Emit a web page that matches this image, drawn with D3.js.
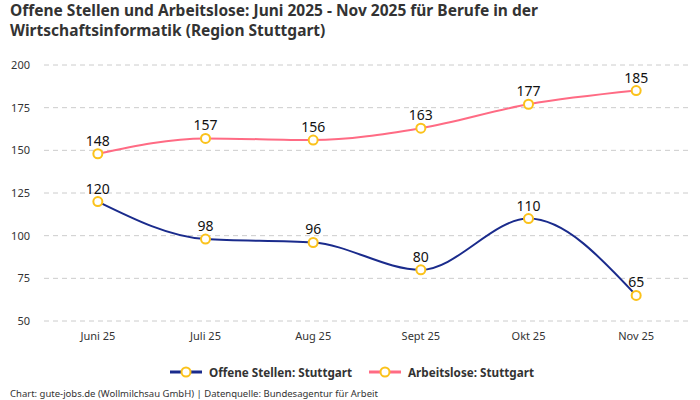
<!DOCTYPE html>
<html><head><meta charset="utf-8">
<script src="https://cdn.jsdelivr.net/npm/d3@7"></script>
<style>
html,body{margin:0;padding:0;background:#fff;}
svg{display:block;font-family:"Noto Sans",Roboto,sans-serif;}
</style></head>
<body>
<svg id="c" width="700" height="400"></svg>
<script>
const categories = ["Juni 25","Juli 25","Aug 25","Sept 25","Okt 25","Nov 25"];
const offeneStellen = [120,98,96,80,110,65];
const arbeitslose = [148,157,156,163,177,185];
const yTicks = [50,75,100,125,150,175,200];
const seriesNames = ["Offene Stellen: Stuttgart","Arbeitslose: Stuttgart"];
const seriesColors = ["#1a2b8c","#ff6b84"];
const markerColor = "#fbc21b";

const svg = d3.select("#c");
const plotLeft = 44, plotRight = 690, plotTop = 65, plotBottom = 321;

svg.append("text").attr("x",10).attr("y",16).attr("font-size",15.5).attr("font-weight",700)
  .attr("fill","#333").text("Offene Stellen und Arbeitslose: Juni 2025 - Nov 2025 für Berufe in der");
svg.append("text").attr("x",10).attr("y",36).attr("font-size",15.5).attr("font-weight",700)
  .attr("fill","#333").text("Wirtschaftsinformatik (Region Stuttgart)");

const x = d3.scalePoint().domain(categories).range([plotLeft,plotRight]).padding(0.5);
const y = d3.scaleLinear().domain([50,200]).range([plotBottom,plotTop]);

const grid = svg.append("g");
yTicks.forEach(t=>{
  grid.append("line").attr("x1",plotLeft).attr("x2",plotRight).attr("y1",y(t)).attr("y2",y(t))
    .attr("stroke","#ccc").attr("stroke-dasharray","5,4").attr("stroke-width",1);
  grid.append("text").attr("x",30).attr("y",y(t)+4).attr("text-anchor","end")
    .attr("font-size",11).attr("fill","#333").text(t);
});
categories.forEach(c=>{
  svg.append("text").attr("x",x(c)).attr("y",340).attr("text-anchor","middle")
    .attr("font-size",11).attr("fill","#333").text(c);
});

const line = d3.line().x((d,i)=>x(categories[i])).y(d=>y(d)).curve(d3.curveMonotoneX);
[offeneStellen, arbeitslose].forEach((vals,si)=>{
  svg.append("path").attr("d",line(vals)).attr("fill","none")
    .attr("stroke",seriesColors[si]).attr("stroke-width",2);
});
[offeneStellen, arbeitslose].forEach((vals,si)=>{
  vals.forEach((v,i)=>{
    svg.append("circle").attr("cx",x(categories[i])).attr("cy",y(v)).attr("r",4.5)
      .attr("fill","#fff").attr("stroke",markerColor).attr("stroke-width",2);
    svg.append("text").attr("x",x(categories[i])).attr("y",y(v)-8).attr("text-anchor","middle")
      .attr("font-size",14).attr("fill","#111").text(v);
  });
});

// legend
const legX = [170, 369];
seriesNames.forEach((n,si)=>{
  const g = svg.append("g").attr("transform",`translate(${legX[si]},372)`);
  g.append("line").attr("x1",0).attr("x2",32).attr("y1",0).attr("y2",0)
    .attr("stroke",seriesColors[si]).attr("stroke-width",3);
  g.append("circle").attr("cx",16).attr("cy",0).attr("r",4.5)
    .attr("fill","#fff").attr("stroke",markerColor).attr("stroke-width",2);
  g.append("text").attr("x",39).attr("y",4.5).attr("font-size",11.7).attr("font-weight",700)
    .attr("fill","#333").text(n);
});

svg.append("text").attr("x",10).attr("y",397).attr("font-size",9.5).attr("fill","#333")
  .text("Chart: gute-jobs.de (Wollmilchsau GmbH) | Datenquelle: Bundesagentur für Arbeit");
</script>
</body></html>
